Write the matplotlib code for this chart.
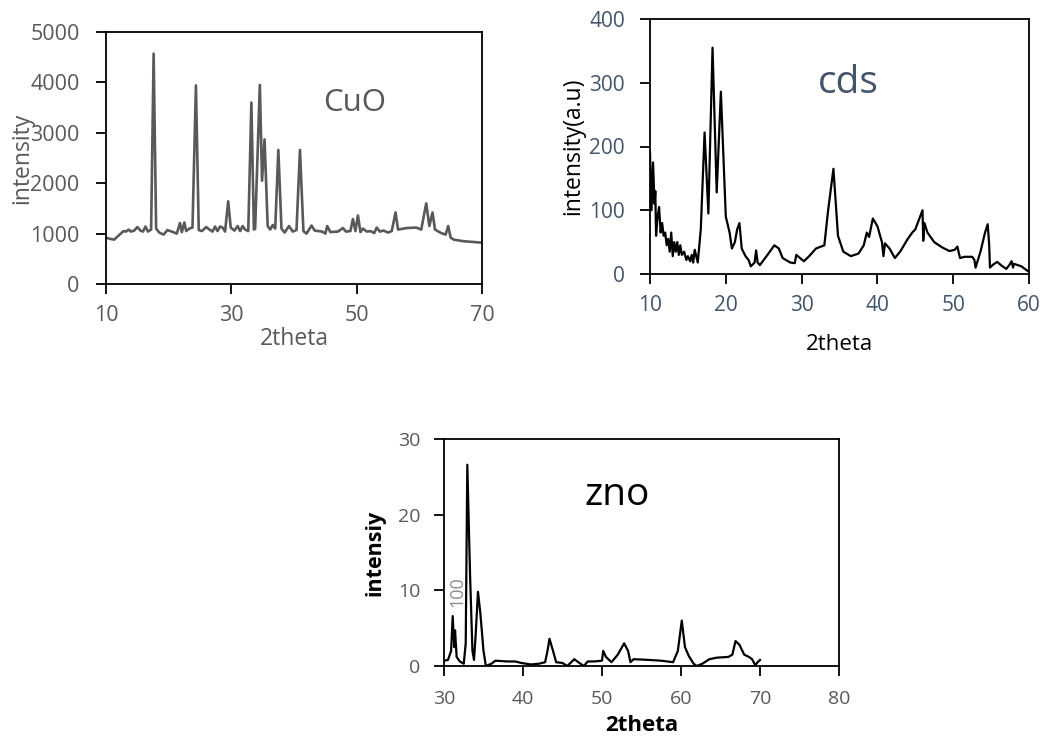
import matplotlib
matplotlib.use("Agg")
import matplotlib.pyplot as plt

plt.rcParams['font.family'] = ['Open Sans', 'DejaVu Sans']

# ---------------- data ----------------
cuo_2theta = [10.0, 10.5, 11.3, 12.0, 12.8, 13.2, 13.6, 14.0, 14.5, 15.0, 15.5, 15.9, 16.3, 16.7,
              17.2, 17.6, 18.0, 18.5, 19.2, 19.8, 20.5, 21.3, 21.8, 22.1, 22.5, 22.8, 23.3, 23.8,
              24.35, 24.8, 25.3, 26.0, 26.5, 27.0, 27.4, 27.8, 28.2, 28.6, 29.0, 29.5, 29.9, 30.5,
              31.0, 31.4, 31.8, 32.2, 32.7, 33.2, 33.6, 33.8, 34.55, 34.9, 35.3, 35.8, 36.2, 36.6,
              37.0, 37.5, 38.0, 38.5, 39.2, 39.8, 40.4, 40.95, 41.5, 42.0, 42.8, 43.3, 44.5, 45.0,
              45.3, 45.8, 47.0, 47.8, 48.3, 49.0, 49.4, 49.8, 50.2, 50.6, 51.0, 51.6, 52.2, 52.8,
              53.2, 53.7, 54.3, 55.0, 55.6, 56.2, 56.6, 58.0, 59.5, 60.3, 61.1, 61.6, 62.1, 62.5,
              63.5, 64.2, 64.6, 65.0, 65.5, 67.0, 70.0]
cuo_intensity = [920, 900, 880, 960, 1050, 1040, 1080, 1040, 1060, 1130, 1060, 1040, 1140, 1040,
                 1080, 4570, 1100, 1020, 980, 1070, 1040, 1000, 1210, 1030, 1220, 1050, 1100, 1120,
                 3940, 1070, 1050, 1130, 1080, 1040, 1140, 1050, 1140, 1120, 1040, 1640, 1120, 1060,
                 1150, 1050, 1150, 1080, 1050, 3600, 1080, 1100, 3950, 2050, 2870, 1150, 1080, 1170,
                 1100, 2660, 1100, 1020, 1150, 1040, 1070, 2660, 1050, 1000, 1160, 1060, 1040, 1000,
                 1150, 1030, 1040, 1110, 1040, 1050, 1290, 1050, 1360, 1030, 1100, 1040, 1050, 1010,
                 1120, 1040, 1060, 1020, 1050, 1420, 1080, 1110, 1120, 1080, 1600, 1150, 1420, 1080,
                 1010, 980, 1150, 920, 880, 850, 820]

cds_2theta = [10.0, 10.2, 10.4, 10.6, 10.7, 10.8, 11.0, 11.2, 11.4, 11.6, 11.8, 12.0, 12.2, 12.4,
              12.6, 12.8, 13.0, 13.2, 13.4, 13.6, 13.8, 14.0, 14.2, 14.5, 14.8, 15.0, 15.3, 15.5,
              15.7, 15.9, 16.3, 16.7, 17.2, 17.7, 18.25, 18.8, 19.35, 19.8, 20.0, 20.5, 20.8, 21.2,
              21.5, 21.8, 22.1, 22.6, 23.0, 23.3, 23.8, 24.0, 24.2, 24.5, 25.5, 26.4, 27.0, 27.5,
              28.5, 29.1, 29.3, 29.8, 30.3, 31.0, 31.9, 33.0, 33.5, 34.2, 34.8, 35.5, 36.5, 37.5,
              38.2, 38.6, 38.9, 39.4, 40.0, 40.6, 40.8, 41.0, 41.6, 42.3, 43.0, 44.0, 44.6, 45.0,
              45.95, 46.05, 46.2, 46.6, 47.5, 48.5, 49.5, 50.2, 50.55, 50.9, 51.5, 52.5, 52.8, 52.95,
              53.6, 54.2, 54.55, 54.75, 54.85, 55.3, 55.8, 56.5, 57.0, 57.4, 57.7, 57.9, 58.0, 59.0,
              59.8]
cds_intensity = [190, 100, 175, 110, 130, 60, 90, 105, 65, 80, 60, 65, 45, 55,
                 35, 65, 28, 50, 35, 50, 30, 45, 30, 35, 22, 28, 20, 30,
                 18, 38, 18, 70, 222, 95, 355, 128, 286, 150, 90, 65, 40, 50,
                 70, 80, 40, 28, 22, 12, 18, 37, 18, 14, 30, 45, 40, 25,
                 18, 17, 30, 25, 20, 28, 40, 45, 100, 165, 60, 35, 28, 32,
                 45, 65, 58, 87, 75, 50, 28, 48, 40, 25, 35, 55, 65, 70,
                 100, 52, 80, 65, 50, 42, 36, 38, 43, 25, 27, 27, 22, 10,
                 35, 65, 78, 45, 10, 15, 19, 12, 8, 14, 20, 10, 16, 12,
                 5]

zno_2theta = [30.0, 30.5, 30.9, 31.1, 31.3, 31.4, 31.6, 32.0, 32.5, 32.75, 32.95, 33.3, 33.6, 33.8,
              34.0, 34.3, 34.6, 35.0, 35.3, 36.0, 36.5, 38.0, 39.0, 39.8, 41.0, 42.0, 42.8, 43.1,
              43.35, 43.8, 44.2, 45.0, 45.6, 46.0, 46.5, 47.0, 47.7, 48.2, 49.0, 50.0, 50.15, 50.5,
              51.2, 52.0, 52.8, 53.3, 53.6, 54.0, 56.0, 57.5, 59.0, 59.6, 60.1, 60.5, 61.0, 61.6,
              62.0, 62.7, 63.6, 64.5, 66.0, 66.5, 66.9, 67.4, 68.0, 68.6, 69.0, 69.4, 69.7, 70.0]
zno_intensity = [0.7, 0.8, 2.0, 6.6, 2.5, 4.7, 1.2, 0.6, 0.3, 3.0, 26.6, 12.0, 2.0, 0.8,
                 4.0, 9.8, 7.0, 2.0, 0.0, 0.3, 0.7, 0.6, 0.6, 0.4, 0.2, 0.3, 0.5, 2.0,
                 3.6, 2.0, 0.5, 0.4, 0.0, 0.4, 0.9, 0.5, 0.0, 0.6, 0.6, 0.7, 2.0, 1.2,
                 0.5, 1.5, 3.0, 2.0, 0.5, 0.9, 0.8, 0.7, 0.5, 2.0, 6.0, 2.5, 1.3, 0.3,
                 0.0, 0.3, 0.9, 1.1, 1.2, 1.5, 3.3, 2.8, 1.5, 1.2, 0.9, 0.1, 0.5, 0.8]

# ---------------- figure ----------------
W, H = 1051, 740
fig = plt.figure(figsize=(W / 100, H / 100), dpi=100)


def axes_px(left, top, right, bottom):
    return fig.add_axes([left / W, 1 - bottom / H, (right - left) / W, (bottom - top) / H])


def fig_text(x, y, s, **kw):
    fig.text(x / W, 1 - y / H, s, ha='center', va='center', **kw)


def style(ax, tick_color, ypad, lw=1.3):
    for s in ax.spines.values():
        s.set_color('black')
        s.set_linewidth(lw)
    ax.tick_params(axis='both', direction='out', length=7, width=lw, color='black',
                   labelcolor=tick_color)
    ax.tick_params(axis='x', pad=8)
    ax.tick_params(axis='y', pad=ypad)


# CuO
ax1 = axes_px(106, 32, 482, 284)
ax1.plot(cuo_2theta, cuo_intensity, color='#595959', lw=1.9)
ax1.set_xlim(10, 70)
ax1.set_ylim(0, 5000)
ax1.set_xticks([10, 30, 50, 70])
ax1.set_yticks([0, 1000, 2000, 3000, 4000, 5000])
style(ax1, '#595959', ypad=12)
ax1.tick_params(labelsize=15.5)
ax1.set_xlabel('2theta', fontsize=16.5, color='#595959', labelpad=1)
ax1.set_ylabel('intensity', fontsize=16.5, color='#595959', labelpad=-3)
fig_text(355, 103, 'CuO', fontsize=22.5, color='#595959')

# CdS
ax2 = axes_px(650, 19, 1029, 274)
ax2.plot(cds_2theta, cds_intensity, color='black', lw=1.6)
ax2.set_xlim(10, 60)
ax2.set_ylim(0, 400)
ax2.set_xticks([10, 20, 30, 40, 50, 60])
ax2.set_yticks([0, 100, 200, 300, 400])
style(ax2, '#44546A', ypad=11)
ax2.tick_params(labelsize=15)
ax2.set_xlabel('2theta', fontsize=16, color='black', labelpad=13)
ax2.set_ylabel('intensity(a.u)', fontsize=16.5, color='black', labelpad=3)
fig_text(848, 83, 'cds', fontsize=28, color='#44546A')

# ZnO
ax3 = axes_px(444, 439, 839, 666)
ax3.plot(zno_2theta, zno_intensity, color='black', lw=1.6)
ax3.set_xlim(30, 80)
ax3.set_ylim(0, 30)
ax3.set_xticks([30, 40, 50, 60, 70, 80])
ax3.set_yticks([0, 10, 20, 30])
style(ax3, '#595959', ypad=10)
ax3.tick_params(axis='x', pad=10)
ax3.tick_params(labelsize=14)
ax3.set_xlabel('2theta', fontsize=16, color='black', fontweight='bold', labelpad=5)
ax3.set_ylabel('intensiy', fontsize=15.5, color='black', fontweight='bold', labelpad=9)
fig_text(617, 495, 'zno', fontsize=28, color='black')
fig_text(457, 592, '100', fontsize=13, color='#8c8c8c', rotation=90)

fig.savefig('out.png', dpi=100)
